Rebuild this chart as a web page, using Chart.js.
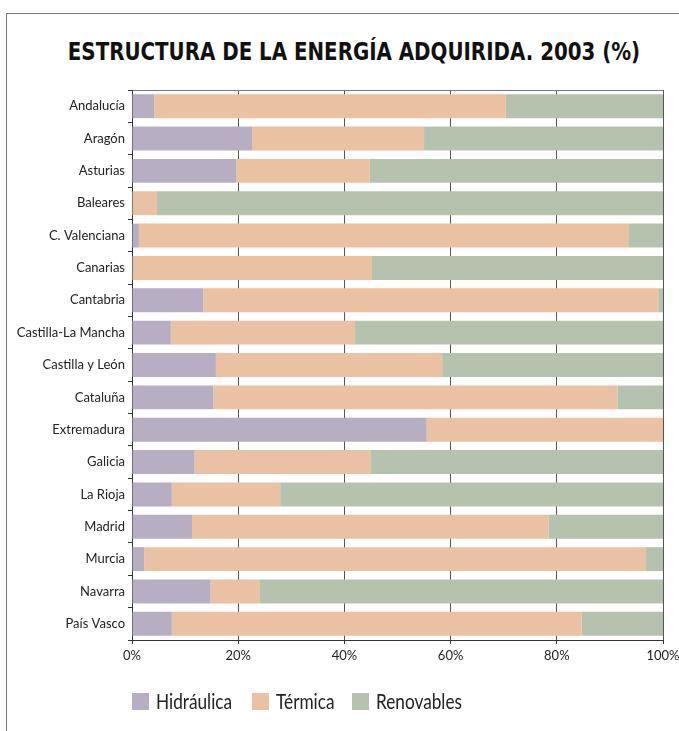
<!DOCTYPE html>
<html lang="es">
<head>
<meta charset="utf-8">
<title>Estructura de la energía adquirida. 2003</title>
<script src="https://cdn.jsdelivr.net/npm/chart.js@4/dist/chart.umd.min.js"></script>
<style>
  html, body { margin: 0; padding: 0; background: #fff; }
  body { width: 679px; height: 731px; position: relative; overflow: hidden; font-family: Lato, sans-serif; }
  .frame { position: absolute; left: 6px; top: 13px; right: -10px; bottom: -10px;
           border-left: 1px solid #777; border-top: 1px solid #777; }
  h1 { position: absolute; left: 354px; top: 38px; margin: 0; white-space: nowrap;
       font-family: 'DejaVu Sans', sans-serif; font-stretch: condensed;
       font-size: 24px; font-weight: bold; color: #111;
       transform: translateX(-50%) scaleX(0.918); }
  #chartWrap { position: absolute; left: 0; top: 0; width: 679px; height: 731px; }
  .legend-item { position: absolute; top: 693px; height: 17px; white-space: nowrap; }
  .legend-item i { position: absolute; left: 0; top: 0; width: 17px; height: 17px; }
  .legend-item span { position: absolute; left: 24px; top: -5px; font-size: 21px; color: #222;
                      transform-origin: 0 50%; transform: scaleX(0.82); }
</style>
</head>
<body>
<div class="frame"></div>
<h1>ESTRUCTURA DE LA ENERGÍA ADQUIRIDA. 2003 (%)</h1>
<div id="chartWrap"><canvas id="energyChart" width="679" height="731"></canvas></div>
<div id="legend"></div>
<script>
const regions = ['Andalucía', 'Aragón', 'Asturias', 'Baleares', 'C. Valenciana', 'Canarias',
  'Cantabria', 'Castilla-La Mancha', 'Castilla y León', 'Cataluña', 'Extremadura', 'Galicia',
  'La Rioja', 'Madrid', 'Murcia', 'Navarra', 'País Vasco'];
const hidraulica = [4.2, 22.6, 19.6, 0, 1.3, 0.2, 13.4, 7.3, 15.8, 15.3, 55.5, 11.8, 7.5, 11.3, 2.3, 14.8, 7.5];
const termica = [66.2, 32.4, 25.2, 4.7, 92.3, 45.0, 85.7, 34.7, 42.6, 76.1, 44.5, 33.2, 20.4, 67.2, 94.5, 9.3, 77.2];
const renovables = [29.6, 45.0, 55.2, 95.3, 6.4, 54.8, 0.9, 58.0, 41.6, 8.6, 0, 55.0, 72.1, 21.5, 3.2, 75.9, 15.3];
const xTicks = [0, 20, 40, 60, 80, 100];

const seriesNames = ['Hidráulica', 'Térmica', 'Renovables'];
const seriesColors = ['#b7aec4', '#eac1a3', '#b5c3ae'];
const seriesData = [hidraulica, termica, renovables];

// left edge of each legend entry
const legendLeft = [132, 252, 352];

document.addEventListener('DOMContentLoaded', () => {
  const canvas = document.getElementById('energyChart');

  new Chart(canvas, {
    type: 'bar',
    data: {
      labels: regions,
      datasets: seriesNames.map((name, i) => ({
        label: name,
        data: seriesData[i],
        backgroundColor: seriesColors[i],
        borderWidth: 0,
        barPercentage: 0.74,
        categoryPercentage: 1
      }))
    },
    options: {
      indexAxis: 'y',
      responsive: false,
      animation: false,
      layout: { padding: { top: 90, right: 16, bottom: 61, left: 0 } },
      plugins: {
        legend: { display: false },
        tooltip: { enabled: false }
      },
      scales: {
        x: {
          stacked: true,
          min: 0,
          max: 100,
          afterFit: (scale) => {
            scale.height = 30;
            // the "100%" label may run into the right margin
            scale.paddingLeft = 0;
            scale.paddingRight = 0;
          },
          afterBuildTicks: (scale) => { scale.ticks = xTicks.map((v) => ({ value: v })); },
          ticks: {
            callback: (v) => v + '%',
            color: '#222',
            padding: 4,
            maxRotation: 0,
            font: { family: 'Lato, sans-serif', size: 13 }
          },
          grid: { color: '#555', lineWidth: 1, tickLength: 4, tickColor: '#333' },
          border: { color: '#333', width: 1 }
        },
        y: {
          stacked: true,
          afterFit: (scale) => { scale.width = 132; },
          ticks: {
            color: '#222',
            padding: 3,
            font: { family: 'Lato, sans-serif', size: 13 }
          },
          grid: {
            offset: true,
            drawOnChartArea: true,
            color: (ctx) => (ctx.index === 0 ? '#777' : 'rgba(0,0,0,0)'),
            tickLength: 4,
            tickColor: '#333'
          },
          border: { color: '#333', width: 1 }
        }
      }
    }
  });

  const legend = document.getElementById('legend');
  seriesNames.forEach((name, i) => {
    const item = document.createElement('div');
    item.className = 'legend-item';
    item.style.left = legendLeft[i] + 'px';
    const swatch = document.createElement('i');
    swatch.style.background = seriesColors[i];
    const text = document.createElement('span');
    text.textContent = name;
    item.appendChild(swatch);
    item.appendChild(text);
    legend.appendChild(item);
  });
});
</script>
</body>
</html>
